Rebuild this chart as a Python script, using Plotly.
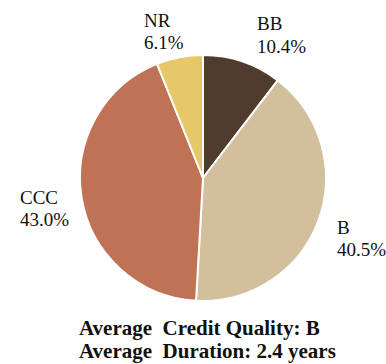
import plotly.graph_objects as go

labels = ["BB", "B", "CCC", "NR"]
values = [10.4, 40.5, 43.0, 6.1]
colors = ["#4f3c2f", "#d2c09c", "#c07255", "#e6c868"]
# label anchor positions in pixels (left x, first-line centre y)
label_px = [(255, 23), (335, 226), (18, 196), (142, 19)]
footer = ["Average  Credit Quality: B", "Average  Duration: 2.4 years"]

SERIF = "Liberation Serif, Times New Roman, DejaVu Serif, serif"
W, H = 386, 364
fig = go.Figure(go.Pie(
    labels=labels, values=values, sort=False, direction="clockwise", rotation=0,
    marker=dict(colors=colors, line=dict(color="white", width=2)),
    textinfo="none", hoverinfo="label+percent",
    domain=dict(x=[80 / W, 326 / W], y=[63 / H, 309 / H]),
    showlegend=False,
))

total = sum(values)
anns = []
LINE = 22
for lab, v, (px, py) in zip(labels, values, label_px):
    for i, t in enumerate([lab, f"{v / total * 100:.1f}%"]):
        anns.append(dict(x=px / W, y=1 - (py + i * LINE + 1) / H, xref="paper", yref="paper",
                         xanchor="left", yanchor="middle", text=t, showarrow=False,
                         font=dict(family=SERIF, size=19, color="#111")))
for i, t in enumerate(footer):
    anns.append(dict(x=77 / W, y=1 - (328 + i * 23) / H, xref="paper", yref="paper",
                     xanchor="left", yanchor="middle", text="<b>" + t + "</b>", showarrow=False,
                     font=dict(family=SERIF, size=21, color="#111")))

fig.update_layout(width=W, height=H, margin=dict(l=0, r=0, t=0, b=0),
                  paper_bgcolor="white", plot_bgcolor="white", annotations=anns,
                  font=dict(family=SERIF))
fig.write_html("out.html")
